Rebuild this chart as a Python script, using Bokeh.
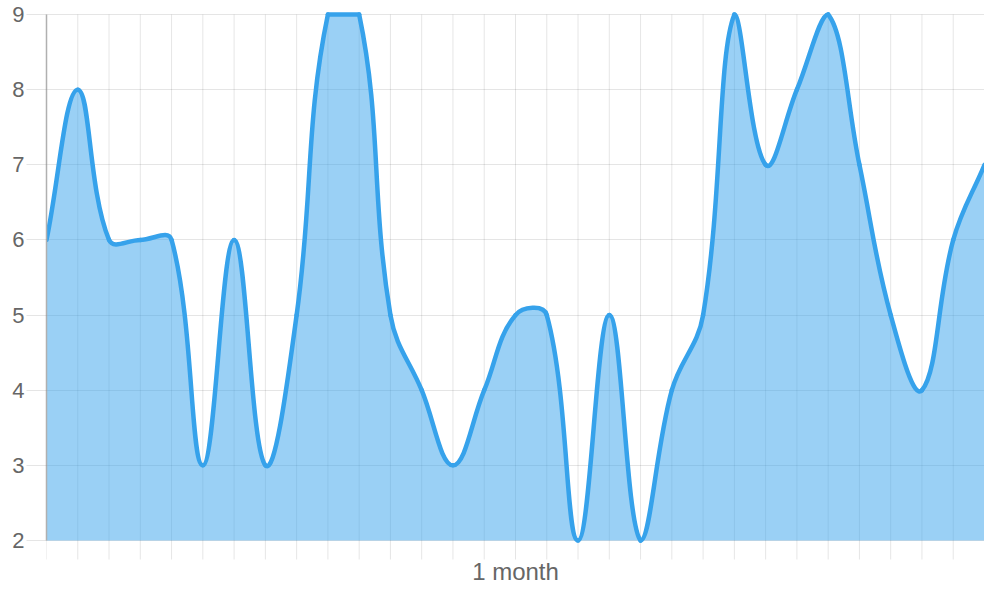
import numpy as np
from bokeh.plotting import figure
from bokeh.models import Range1d, FixedTicker, Label
from bokeh.embed import file_html
from bokeh.resources import INLINE

# ---- data ----
days = list(range(31))
values = [6, 8, 6, 6, 6, 3, 6, 3, 5, 9, 9, 5, 4, 3, 4, 5, 5, 2, 5, 2,
          4, 5, 9, 7, 8, 9, 7, 5, 4, 6, 7]
y_ticks = [2, 3, 4, 5, 6, 7, 8, 9]
x_title = "1 month"

# ---- style constants ----
TENSION = 0.4
X_MIN, X_MAX = 0, 30
Y_MIN, Y_MAX = 2, 9
W, H = 984, 584
LEFT, TOP = 46, 14
PX_X = (W - LEFT) / 30.0       # pixels per x unit
PX_Y = 526 / 7.0               # pixels per y unit
PAD_T = 3 / PX_Y               # room so the thick line is not clipped at the top
BELOW = (H - 540) / PX_Y       # the frame runs to the bottom edge (ticks + title live there)
TICK = 19 / PX_Y               # length of the x tick marks under the axis
TITLE_Y = 30.5 / PX_Y          # distance of the title's middle under the axis
LINE = "#36a2eb"
GRID = "black"
FONT = "Liberation Sans"

x = np.array(days, dtype=float)
y = np.array(values, dtype=float)
n = len(x)

# Chart.js style spline control points (distances measured in pixel space)
prev_cx = np.zeros(n); prev_cy = np.zeros(n)
next_cx = np.zeros(n); next_cy = np.zeros(n)
for i in range(n):
    a = i - 1 if i > 0 else i
    b = i + 1 if i < n - 1 else i
    d01 = np.hypot((x[i] - x[a]) * PX_X, (y[i] - y[a]) * PX_Y)
    d12 = np.hypot((x[b] - x[i]) * PX_X, (y[b] - y[i]) * PX_Y)
    s = d01 + d12
    s01 = d01 / s if s else 0.0
    s12 = d12 / s if s else 0.0
    fa, fb = TENSION * s01, TENSION * s12
    prev_cx[i] = x[i] - fa * (x[b] - x[a]); prev_cy[i] = y[i] - fa * (y[b] - y[a])
    next_cx[i] = x[i] + fb * (x[b] - x[a]); next_cy[i] = y[i] + fb * (y[b] - y[a])

prev_cx = np.clip(prev_cx, X_MIN, X_MAX); next_cx = np.clip(next_cx, X_MIN, X_MAX)
prev_cy = np.clip(prev_cy, Y_MIN, Y_MAX); next_cy = np.clip(next_cy, Y_MIN, Y_MAX)

x0, y0 = x[:-1], y[:-1]
x1, y1 = x[1:], y[1:]
cx0, cy0 = next_cx[:-1], next_cy[:-1]
cx1, cy1 = prev_cx[1:], prev_cy[1:]

# outline of the smoothed curve for the area fill
t = np.linspace(0, 1, 30)[:, None]
bx = ((1 - t) ** 3 * x0 + 3 * (1 - t) ** 2 * t * cx0 + 3 * (1 - t) * t ** 2 * cx1 + t ** 3 * x1).T.ravel()
by = ((1 - t) ** 3 * y0 + 3 * (1 - t) ** 2 * t * cy0 + 3 * (1 - t) * t ** 2 * cy1 + t ** 3 * y1).T.ravel()

p = figure(width=W, height=H,
           x_range=Range1d(X_MIN, X_MAX), y_range=Range1d(Y_MIN - BELOW, Y_MAX + PAD_T),
           output_backend="svg", toolbar_location=None, x_axis_location=None,
           min_border_left=LEFT, min_border_right=0, min_border_top=TOP - 3,
           min_border_bottom=0)
p.outline_line_color = None
p.background_fill_color = "white"
p.border_fill_color = "white"

# vertical grid lines, continuing below the axis as tick marks
p.xgrid.grid_line_color = None
p.segment(x0=days, y0=[Y_MAX] * n, x1=days, y1=[Y_MIN - TICK] * n,
          line_color=GRID, line_alpha=0.1, line_width=1)

# horizontal grid lines
p.ygrid.ticker = FixedTicker(ticks=y_ticks)
p.ygrid.grid_line_color = GRID
p.ygrid.grid_line_alpha = 0.1

p.varea(x=bx, y1=Y_MIN, y2=by, fill_color=LINE, fill_alpha=0.5)
p.bezier(x0=x0, y0=y0, x1=x1, y1=y1, cx0=cx0, cy0=cy0, cx1=cx1, cy1=cy1,
         line_color=LINE, line_width=4.5, line_cap="round")

# x-axis title
p.add_layout(Label(x=(X_MIN + X_MAX) / 2, y=Y_MIN - TITLE_Y, text=x_title,
                   text_font=FONT, text_font_size="24px", text_color="#666666",
                   text_align="center", text_baseline="middle"))

# y axis
ya = p.yaxis[0]
ya.ticker = FixedTicker(ticks=y_ticks)
ya.bounds = (Y_MIN, Y_MAX)
ya.axis_line_color = "#b0b0b0"
ya.axis_line_width = 1.5
ya.major_tick_line_color = GRID
ya.major_tick_line_alpha = 0.1
ya.major_tick_in = 0
ya.major_tick_out = 20
ya.minor_tick_line_color = None
ya.major_label_standoff = 2
ya.major_label_text_font = FONT
ya.major_label_text_font_size = "22px"
ya.major_label_text_color = "#666666"

open("out.html", "w").write(file_html(p, INLINE))
